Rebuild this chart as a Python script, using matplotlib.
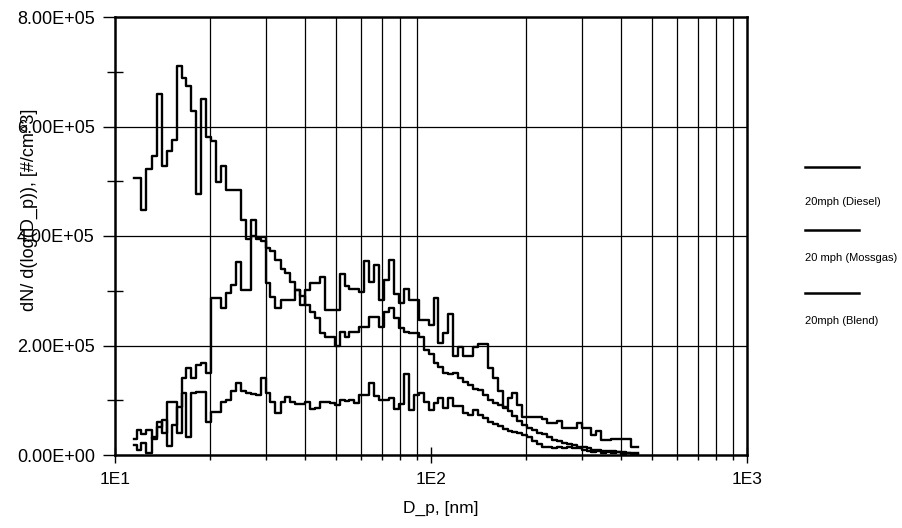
import numpy as np
import matplotlib
matplotlib.use("Agg")
import matplotlib.pyplot as plt
from matplotlib.lines import Line2D
from matplotlib.ticker import FixedLocator, FuncFormatter

plt.rcParams['font.family'] = ['Liberation Sans', 'DejaVu Sans']

# SMPS channel midpoints, nm
diam = [11.5, 11.9, 12.3, 12.8, 13.3, 13.8, 14.3, 14.9, 15.4, 16.0, 16.5, 17.1, 17.8, 18.4,
        19.1, 19.8, 20.5, 21.3, 22.1, 22.9, 23.7, 24.6, 25.5, 26.4, 27.4, 28.4, 29.4, 30.5,
        31.6, 32.8, 34.0, 35.2, 36.5, 37.9, 39.2, 40.7, 42.2, 43.7, 45.3, 47.0, 48.7, 50.5,
        52.3, 54.2, 56.2, 58.3, 60.4, 62.6, 64.9, 67.3, 69.8, 72.3, 75.0, 77.7, 80.6, 83.5,
        86.6, 89.8, 93.1, 96.5, 100.0, 103.7, 107.5, 111.4, 115.5, 119.7, 124.1, 128.6,
        133.2, 138.1, 143.3, 148.6, 154.0, 159.6, 165.5, 171.5, 177.8, 184.3, 191.1, 198.1,
        205.4, 212.9, 220.7, 228.8, 237.2, 245.8, 254.8, 264.2, 273.8, 283.9, 294.3, 305.1,
        316.2, 327.8, 339.8, 352.3, 365.2, 378.6, 392.4, 406.8, 421.7, 437.1, 453.2]

# dN/dlogDp in thousands of #/cm^3
diesel = [506, 506, 447, 522, 547, 660, 528, 556, 575, 711,
          688, 674, 628, 477, 650, 580, 574, 498, 528, 484,
          484, 484, 429, 394, 400, 395, 390, 378, 372, 356,
          340, 332, 316, 301, 290, 274, 262, 250, 222, 216,
          216, 200, 225, 216, 225, 225, 234, 234, 252, 252,
          234, 262, 268, 250, 232, 225, 222, 222, 215, 192,
          185, 168, 160, 150, 148, 150, 140, 133, 128, 120,
          118, 110, 100, 95, 92, 85, 80, 72, 62, 55,
          50, 45, 40, 38, 33, 28, 25, 22, 20, 18,
          15, 14, 12, 10, 9, 8, 7, 7, 5, 6,
          4, 3, 3]

mossgas = [29, 46, 38, 46, 29, 60, 40, 97, 97, 40,
           140, 159, 140, 164, 168, 150, 287, 287, 268, 296,
           310, 353, 301, 301, 429, 399, 399, 314, 289, 268,
           283, 283, 283, 301, 274, 301, 314, 314, 326, 265,
           265, 265, 330, 309, 304, 304, 298, 355, 316, 347,
           283, 320, 357, 294, 277, 304, 284, 284, 246, 246,
           237, 286, 204, 222, 257, 180, 198, 181, 181, 198,
           202, 202, 158, 140, 116, 88, 104, 113, 91, 70,
           70, 70, 70, 65, 58, 58, 62, 50, 50, 50,
           58, 50, 50, 37, 43, 28, 27, 29, 29, 29,
           29, 15, 15]

blend = [18, 9, 22, 4, 33, 52, 64, 17, 55, 88,
         113, 33, 113, 115, 115, 61, 79, 79, 97, 100,
         116, 131, 116, 114, 112, 110, 140, 114, 97, 77,
         97, 106, 97, 93, 93, 97, 84, 86, 97, 97,
         95, 92, 101, 99, 101, 95, 110, 110, 132, 108,
         101, 101, 104, 84, 93, 148, 82, 109, 113, 97,
         82, 95, 104, 86, 104, 90, 90, 77, 73, 82,
         73, 68, 60, 57, 53, 48, 44, 42, 40, 37,
         32, 25, 20, 15, 15, 13, 14, 13, 15, 12,
         13, 10, 8, 5, 7, 4, 6, 3, 5, 2,
         4, 2, 2]

labels = ['20mph (Diesel)', '20 mph (Mossgas)', '20mph (Blend)']

fig = plt.figure(figsize=(9.03, 5.28), dpi=100)
ax = fig.add_axes([115 / 903, 73 / 528, 632 / 903, 438 / 528])

for vals in (diesel, mossgas, blend):
    ax.step(diam, np.array(vals) * 1e3, where='mid', color='black', lw=1.7)

ax.set_xscale('log')
ax.set_xlim(10, 1000)
ax.set_ylim(0, 8e5)

# gridlines only at the in-between decades, plus the y majors
minor_x = [m * 10 ** e for e in (1, 2) for m in range(2, 10)]
for xv in minor_x:
    ax.axvline(xv, color='black', lw=0.9, zorder=0)
for yv in (2e5, 4e5, 6e5):
    ax.axhline(yv, color='black', lw=0.9, zorder=0)

ax.xaxis.set_major_locator(FixedLocator([10, 100, 1000]))
ax.xaxis.set_minor_locator(FixedLocator(minor_x))
ax.xaxis.set_major_formatter(FuncFormatter(lambda v, p: '1E%d' % round(np.log10(v))))
ax.xaxis.set_minor_formatter(FuncFormatter(lambda v, p: ''))
ax.yaxis.set_major_locator(FixedLocator(np.arange(0, 8.01e5, 2e5)))
ax.yaxis.set_minor_locator(FixedLocator(np.arange(1e5, 8e5, 2e5)))
ax.yaxis.set_major_formatter(FuncFormatter(lambda v, p: '%.2E' % v))

ax.tick_params(axis='x', which='major', direction='inout', length=11, width=1,
               labelsize=12.5, pad=7)
ax.tick_params(axis='x', which='minor', direction='out', length=3.5, width=1)
ax.tick_params(axis='y', which='major', direction='out', length=8.5, width=1,
               labelsize=13, pad=6)
ax.tick_params(axis='y', which='minor', direction='inout', length=12, width=1)

for s in ax.spines.values():
    s.set_linewidth(1.8)
    s.set_color('black')

ax.set_xlabel('D_p, [nm]', fontsize=12.5)
ax.xaxis.set_label_coords(0.516, -0.105)
ax.set_ylabel('dN/ d(log(D_p)), [#/cm^3]', fontsize=13)
ax.yaxis.set_label_coords(-0.122, 0.56)

# legend: short line with its label underneath
line_y = [167, 230, 293]
text_y = [202, 258, 321]
for ly, ty, lab in zip(line_y, text_y, labels):
    fig.add_artist(Line2D([805 / 903, 859 / 903], [1 - ly / 528, 1 - ly / 528],
                          color='black', lw=1.8))
    fig.text(805 / 903, 1 - ty / 528, lab, fontsize=8, va='center', ha='left')

fig.savefig('out.png', dpi=100)
